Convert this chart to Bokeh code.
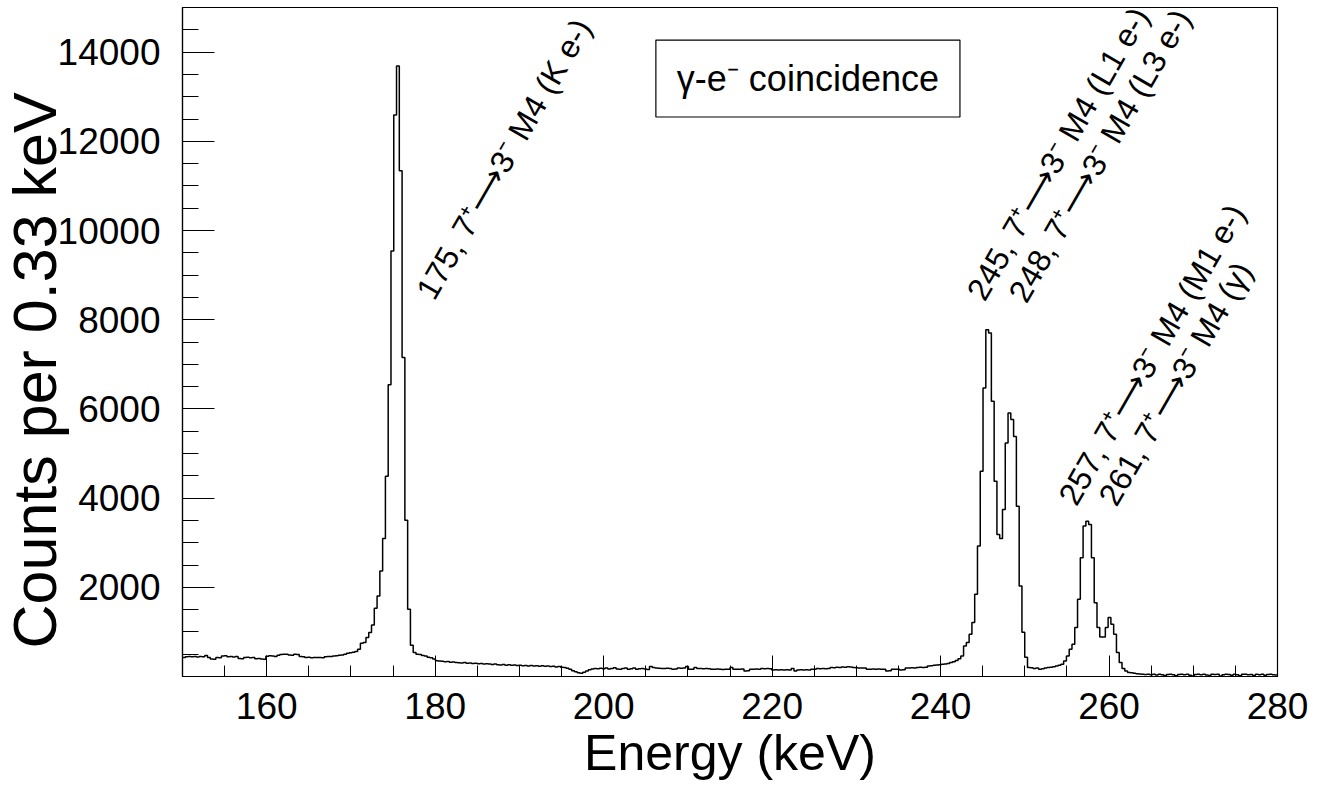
import numpy as np
from bokeh.plotting import figure
from bokeh.models import SingleIntervalTicker, Label, BoxAnnotation, Range1d, ColumnDataSource, Title
from bokeh.core.properties import value
from bokeh.embed import file_html
from bokeh.resources import INLINE

# ---------------- data ----------------
BIN_START = 150.0      # keV, lower edge of first bin
BIN_WIDTH = 0.33       # keV per bin

counts = [
    # 0-9
    425, 445, 450, 445, 448, 440, 450, 445, 470, 425,
    # 10-19
    390, 385, 425, 420, 460, 465, 445, 450, 440, 448,
    # 20-29
    405, 400, 425, 430, 420, 425, 400, 405, 390, 385,
    # 30-39
    455, 465, 460, 447, 477, 495, 500, 498, 480, 475,
    # 40-49
    500, 495, 450, 445, 425, 430, 420, 425, 428, 425,
    # 50-59
    422, 445, 448, 447, 460, 465, 475, 480, 500, 520,
    # 60-69
    530, 545, 560, 611, 745, 761, 873, 985, 1155, 1529,
    # 70-79
    1804, 2364, 3096, 4490, 6544, 9540, 12590, 13690, 11340, 7150,
    # 80-89
    3506, 1507, 700, 537, 500, 495, 470, 460, 430, 420,
    # 90-99
    390, 355, 350, 340, 330, 335, 318, 325, 315, 310,
    # 100-109
    300, 312, 295, 300, 290, 298, 285, 290, 280, 285,
    # 110-119
    278, 270, 280, 265, 260, 270, 255, 262, 250, 258,
    # 120-129
    245, 250, 240, 248, 238, 245, 235, 240, 232, 242,
    # 130-139
    228, 235, 222, 230, 215, 225, 210, 200, 185, 160,
    # 140-149
    130, 105, 85, 75, 95, 125, 150, 170, 180, 175,
    # 150-159
    185, 175, 190, 168, 180, 195, 170, 160, 178, 188,
    # 160-169
    165, 172, 190, 160, 175, 182, 168, 158, 223, 201,
    # 170-179
    190, 185, 180, 178, 185, 180, 164, 168, 190, 185,
    # 180-189
    192, 223, 164, 160, 200, 178, 180, 175, 182, 176,
    # 190-199
    164, 160, 168, 162, 158, 165, 160, 200, 165, 160,
    # 200-209
    162, 168, 126, 130, 164, 160, 166, 162, 178, 175,
    # 210-219
    180, 176, 148, 150, 145, 152, 148, 150, 145, 178,
    # 220-229
    126, 148, 150, 145, 152, 148, 164, 160, 178, 175,
    # 230-239
    180, 176, 182, 201, 198, 205, 200, 215, 210, 218,
    # 240-249
    212, 201, 198, 190, 188, 192, 164, 160, 166, 162,
    # 250-259
    168, 160, 165, 126, 130, 164, 160, 165, 148, 152,
    # 260-269
    190, 188, 195, 192, 200, 205, 200, 210, 238, 240,
    # 270-279
    250, 260, 265, 276, 280, 290, 313, 330, 360, 400,
    # 280-289
    461, 685, 761, 947, 1209, 1842, 2924, 4603, 6470, 7775,
    # 290-299
    7700, 6170, 4380, 3185, 3096, 3745, 5238, 5910, 5760, 5380,
    # 300-309
    3820, 2028, 990, 430, 200, 195, 180, 188, 165, 172,
    # 310-319
    190, 200, 205, 220, 235, 250, 275, 350, 461, 611,
    # 320-329
    723, 1097, 1730, 2664, 3372, 3483, 3409, 2664, 1656, 1097,
    # 330-339
    887, 887, 1097, 1321, 1171, 947, 537, 313, 179, 125,
    # 340-349
    90, 85, 75, 62, 55, 50, 45, 52, 40, 48,
    # 350-359
    35, 50, 42, 20, 45, 50, 38, 15, 45, 50,
    # 360-369
    40, 48, 30, 10, 45, 52, 40, 50, 35, 20,
    # 370-379
    48, 45, 50, 12, 40, 52, 45, 30, 50, 40,
    # 380-389
    15, 48, 52, 38, 45, 20, 50, 42, 48, 30,
    # 390-393
    45, 50, 40, 35,
]

peak_labels = [
    "175, 7\u207a\u27f63\u207b M4 (K e-)",
    "245, 7\u207a\u27f63\u207b M4 (L1 e-)",
    "248, 7\u207a\u27f63\u207b M4 (L3 e-)",
    "257, 7\u207a\u27f63\u207b M4 (M1 e-)",
    "261, 7\u207a\u27f63\u207b M4 (\u03b3)",
]
legend_text = "\u03b3-e\u207b coincidence"
x_title = "Energy (keV)"
y_title = "Counts per 0.33 keV"

# ---------------- figure ----------------
FONT = "Liberation Sans"

edges = BIN_START + BIN_WIDTH * np.arange(len(counts) + 1)
step_y = list(counts) + [counts[-1]]
src = ColumnDataSource(dict(x=edges, y=step_y))

p = figure(width=1313, height=786, output_backend="svg", toolbar_location=None,
           x_range=Range1d(150, 280), y_range=Range1d(0, 15000),
           min_border_left=182, min_border_right=36, min_border_top=7, min_border_bottom=110)

p.step("x", "y", source=src, mode="after", line_color="black", line_width=1.5)

p.grid.visible = False
p.outline_line_color = "black"
p.outline_line_width = 1.2
p.outline_line_alpha = 1
p.background_fill_color = "white"
p.border_fill_color = "white"

p.xaxis.ticker = SingleIntervalTicker(interval=20, num_minor_ticks=4)
p.yaxis.ticker = SingleIntervalTicker(interval=2000, num_minor_ticks=4)
p.yaxis.major_label_overrides = {0: ""}

for ax in (p.xaxis[0], p.yaxis[0]):
    ax.axis_line_color = "black"
    ax.axis_line_width = 1.2
    ax.major_tick_line_color = "black"
    ax.minor_tick_line_color = "black"
    ax.major_tick_out = 0
    ax.minor_tick_out = 0
    ax.major_label_text_font = FONT
    ax.major_label_text_font_size = "37px"
    ax.major_label_text_color = "black"

p.xaxis.major_tick_in = 21
p.xaxis.minor_tick_in = 11
p.yaxis.major_tick_in = 32
p.yaxis.minor_tick_in = 16
p.xaxis.major_label_standoff = 16
p.yaxis.major_label_standoff = 22

# x axis title
p.xaxis.axis_label = x_title
p.xaxis.axis_label_text_font = FONT
p.xaxis.axis_label_text_font_size = "50px"
p.xaxis.axis_label_text_font_style = "normal"
p.xaxis.axis_label_text_color = "black"
p.xaxis.axis_label_standoff = 3

# y axis title (as a side title so it can sit slightly below centre)
p.add_layout(Title(text=y_title, align="left", offset=28, standoff=-29,
                   vertical_align="bottom",
                   text_font=FONT, text_font_size="61px", text_font_style="normal",
                   text_color="black"), "left")

# peak annotations (rotated 60 deg)
label_pos = [(178.75, 8527), (244.1, 8504), (249.06, 8460), (255.0, 3915), (259.76, 3901)]
for (lx, ly), t in zip(label_pos, peak_labels):
    p.add_layout(Label(x=lx, y=ly, text=t, angle=60, angle_units="deg",
                       text_font=FONT, text_font_size="32px", text_color="black",
                       text_align="left", text_baseline="alphabetic"))

# legend-like box
p.add_layout(BoxAnnotation(left=206.2, right=242.3, bottom=12545, top=14270,
                           fill_color="white", fill_alpha=1.0,
                           line_color="black", line_width=1.2, line_alpha=1.0))
p.add_layout(Label(x=224.25, y=13410, text=legend_text, text_font=FONT,
                   text_font_size="36px", text_color="black",
                   text_align="center", text_baseline="middle"))

open("out.html", "w").write(file_html(p, INLINE))
